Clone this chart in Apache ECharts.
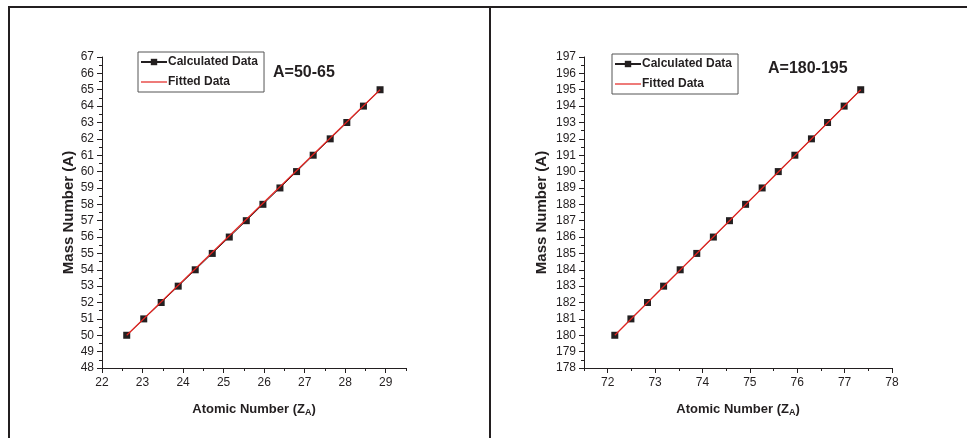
<!DOCTYPE html>
<html><head><meta charset="utf-8">
<script src="https://cdn.jsdelivr.net/npm/echarts@6/dist/echarts.min.js"></script>
<style>html,body{margin:0;padding:0;background:#fff}#c{width:967px;height:438px}</style>
</head><body><div id="c"></div>
<script>
// Panel 1: A = 50-65
const zLeft = [22.61, 23.03, 23.46, 23.88, 24.30, 24.72, 25.14, 25.56, 25.97, 26.39, 26.80, 27.21, 27.63, 28.04, 28.45, 28.86];
const aLeft = [50, 51, 52, 53, 54, 55, 56, 57, 58, 59, 60, 61, 62, 63, 64, 65];
const fitLeftZ = [22.61, 28.86];
const fitLeftA = [50, 65];
const xTicksLeft = [22, 23, 24, 25, 26, 27, 28, 29];
// Panel 2: A = 180-195
const zRight = [72.15, 72.49, 72.84, 73.18, 73.53, 73.88, 74.23, 74.57, 74.91, 75.26, 75.60, 75.95, 76.30, 76.64, 76.99, 77.34];
const aRight = [180, 181, 182, 183, 184, 185, 186, 187, 188, 189, 190, 191, 192, 193, 194, 195];
const fitRightZ = [72.15, 77.34];
const fitRightA = [180, 195];
const xTicksRight = [72, 73, 74, 75, 76, 77, 78];

const INK = '#231f20';
const RED = '#e3231f';
const SANS = '"Liberation Sans", Arial, sans-serif';

const pairs = (xs, ys) => xs.map((x, i) => [x, ys[i]]);

function mainX(grid, min, max, ticks) {
  return {
    type: 'value', gridIndex: grid, min: min, max: max, position: 'bottom',
    name: '{b|Atomic Number (Z}{s|A}{b|)}', nameLocation: 'middle', nameGap: 33,
    nameTextStyle: { rich: {
      b: { fontFamily: SANS, fontWeight: 'bold', fontSize: 13, color: INK },
      s: { fontFamily: SANS, fontWeight: 'bold', fontSize: 9, color: INK, verticalAlign: 'bottom', padding: [7, 0, 0, 0] }
    } },
    axisLine: { show: true, lineStyle: { color: INK, width: 1 } },
    axisTick: { show: true, length: 5, lineStyle: { color: INK }, customValues: ticks },
    axisLabel: { show: true, color: INK, fontFamily: SANS, fontSize: 12, margin: 9, customValues: ticks },
    splitLine: { show: false }
  };
}
function minorX(grid, min, max) {
  return {
    type: 'value', gridIndex: grid, min: min, max: max, interval: 0.5, position: 'bottom',
    axisLine: { show: false }, axisLabel: { show: false }, splitLine: { show: false },
    axisTick: { show: true, length: 3, lineStyle: { color: INK } }
  };
}
function yAx(grid, min, max, nameGap) {
  return {
    type: 'value', gridIndex: grid, min: min, max: max, interval: 1,
    name: 'Mass Number (A)', nameLocation: 'middle', nameGap: nameGap,
    nameTextStyle: { fontFamily: SANS, fontWeight: 'bold', fontSize: 15, color: INK },
    axisLine: { show: true, lineStyle: { color: INK, width: 1 } },
    axisTick: { show: true, length: 5, lineStyle: { color: INK } },
    minorTick: { show: true, splitNumber: 2, length: 3, lineStyle: { color: INK } },
    axisLabel: { color: INK, fontFamily: SANS, fontSize: 12, margin: 8 },
    splitLine: { show: false }, minorSplitLine: { show: false }
  };
}
function calcSeries(x, y, xi, yi) {
  return { name: 'Calculated Data', type: 'line', xAxisIndex: xi, yAxisIndex: yi,
    data: pairs(x, y), symbol: 'rect', symbolSize: 7, showSymbol: true,
    itemStyle: { color: INK }, lineStyle: { color: INK, width: 1 }, z: 2, animation: false };
}
function fitSeries(x, y, xi, yi) {
  return { name: 'Fitted Data', type: 'line', xAxisIndex: xi, yAxisIndex: yi,
    data: pairs(x, y), symbol: 'none', itemStyle: { color: RED },
    lineStyle: { color: RED, width: 1.2 }, z: 3, animation: false };
}
function legend(left, top) {
  return {
    left: left, top: top, orient: 'vertical', itemGap: 8, itemWidth: 26, itemHeight: 8,
    borderColor: '#555', borderWidth: 1, padding: [4, 6, 4, 2], backgroundColor: '#fff',
    textStyle: { fontFamily: SANS, fontWeight: 'bold', fontSize: 12, color: INK, padding: [0, 0, 0, -4] },
    data: ['Calculated Data', { name: 'Fitted Data', itemStyle: { opacity: 0, borderWidth: 0 }, lineStyle: { color: RED, width: 1.2, opacity: 1 } }],
    selectedMode: false
  };
}

const chart = echarts.init(document.getElementById('c'), null, { renderer: 'canvas' });
chart.setOption({
  backgroundColor: '#fff',
  animation: false,
  grid: [
    { left: 102, top: 57, width: 304, height: 311 },
    { left: 584, top: 57, width: 308, height: 311 }
  ],
  xAxis: [
    mainX(0, 22, 29.5, xTicksLeft), minorX(0, 22, 29.5),
    mainX(1, 71.5, 78, xTicksRight), minorX(1, 71.5, 78)
  ],
  yAxis: [ yAx(0, 48, 67, 23), yAx(1, 178, 197, 35) ],
  legend: [ legend(138, 52), legend(612, 54) ],
  title: [
    { text: 'A=50-65', left: 273, top: 65, padding: 0, textStyle: { fontFamily: SANS, fontWeight: 'bold', fontSize: 16, color: INK } },
    { text: 'A=180-195', left: 768, top: 61, padding: 0, textStyle: { fontFamily: SANS, fontWeight: 'bold', fontSize: 16, color: INK } }
  ],
  series: [
    calcSeries(zLeft, aLeft, 0, 0), fitSeries(fitLeftZ, fitLeftA, 0, 0),
    calcSeries(zRight, aRight, 2, 1), fitSeries(fitRightZ, fitRightA, 2, 1)
  ],
  graphic: [
    { type: 'line', shape: { x1: 8, y1: 7, x2: 967, y2: 7 }, style: { stroke: INK, lineWidth: 2 } },
    { type: 'line', shape: { x1: 9, y1: 6, x2: 9, y2: 438 }, style: { stroke: INK, lineWidth: 2 } },
    { type: 'line', shape: { x1: 490, y1: 6, x2: 490, y2: 438 }, style: { stroke: INK, lineWidth: 2 } }
  ]
});
</script></body></html>
